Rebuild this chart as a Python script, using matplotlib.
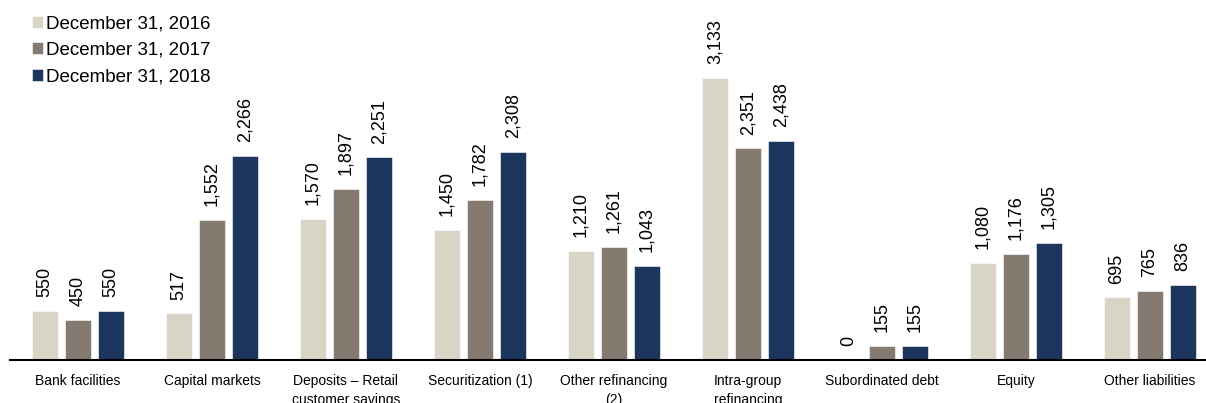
import matplotlib.pyplot as plt
import numpy as np

plt.rcParams["font.family"] = ["Liberation Sans", "DejaVu Sans"]

categories = [
    "Bank facilities",
    "Capital markets",
    "Deposits \u2013 Retail\ncustomer savings",
    "Securitization (1)",
    "Other refinancing\n(2)",
    "Intra-group\nrefinancing",
    "Subordinated debt",
    "Equity",
    "Other liabilities",
]
series_labels = ["December 31, 2016", "December 31, 2017", "December 31, 2018"]
values_2016 = [550, 517, 1570, 1450, 1210, 3133, 0, 1080, 695]
values_2017 = [450, 1552, 1897, 1782, 1261, 2351, 155, 1176, 765]
values_2018 = [550, 2266, 2251, 2308, 1043, 2438, 155, 1305, 836]
colors = ["#d8d4c6", "#857a70", "#1c365d"]

fig = plt.figure(figsize=(12.06, 4.03), dpi=100)
ax = fig.add_axes([10 / 1206, 43 / 403, 1196 / 1206, 360 / 403])

x = np.arange(len(categories))
width = 0.2
step = 0.246
for i, (vals, lab, col) in enumerate(zip([values_2016, values_2017, values_2018],
                                         series_labels, colors)):
    pos = x + (i - 1) * step
    ax.bar(pos, vals, width, color=col, label=lab, edgecolor="white", linewidth=0.4)
    for px, v in zip(pos, vals):
        ax.annotate(f"{v:,}", (px, v), xytext=(0, 10), textcoords="offset points",
                    rotation=90, ha="center", va="bottom", fontsize=13)

ax.set_xlim(-0.507, 8.418)
ax.set_ylim(0, 4000)
for s in ["top", "right", "left"]:
    ax.spines[s].set_visible(False)
ax.spines["bottom"].set_linewidth(1.5)
ax.set_yticks([])
ax.set_xticks(x)
# the second line of the wrapped labels runs off the bottom edge, as in the source
ax.set_xticklabels(categories, fontsize=10, linespacing=1.45)
ax.tick_params(axis="x", length=0, pad=10)

fig.legend(loc="upper left", bbox_to_anchor=(24 / 1206, 1 - 8 / 403), frameon=False,
           fontsize=13.5, handlelength=0.6, handleheight=0.6, handletextpad=0.2,
           labelspacing=0.5, borderaxespad=0)

fig.savefig("out.png", dpi=100)
